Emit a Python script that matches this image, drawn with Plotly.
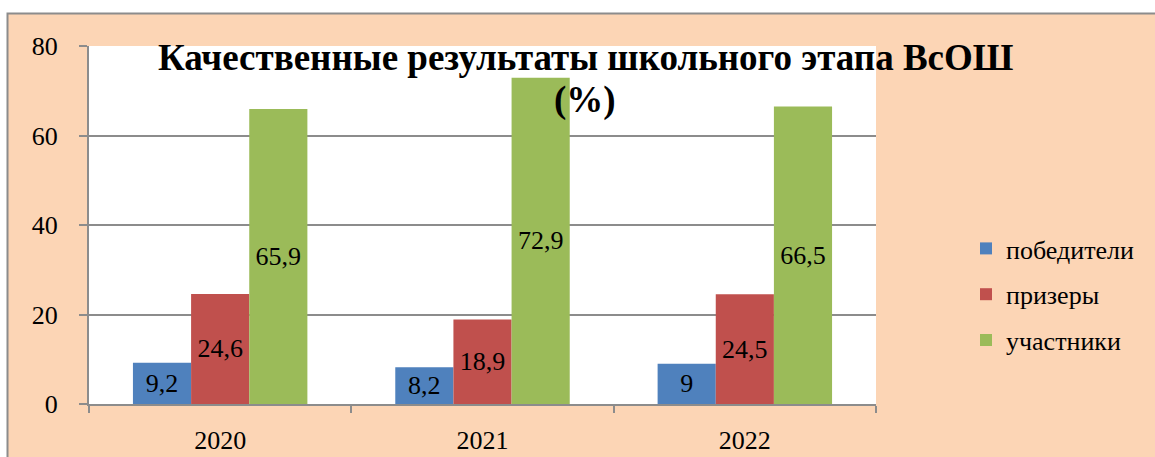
import plotly.graph_objects as go

years = ["2020", "2021", "2022"]
series_names = ["победители", "призеры", "участники"]
winners = [9.2, 8.2, 9]
prize = [24.6, 18.9, 24.5]
participants = [65.9, 72.9, 66.5]
colors = ["#4F81BD", "#C0504D", "#9BBB59"]
title_line1 = "Качественные результаты школьного этапа ВсОШ"
title_line2 = "(%)"

W, H = 1155, 457
L, R, T, B = 89, 876, 46, 404
pw, ph = R - L, B - T

def px_x(x):
    return (x - L) / pw

def px_y(y):
    return (B - y) / ph

FONT = "Liberation Serif"
FS = 26

fig = go.Figure()
for i, (name, vals) in enumerate(zip(series_names, [winners, prize, participants])):
    fig.add_trace(go.Bar(
        x=years, y=vals, name=name,
        marker=dict(color=colors[i], line=dict(width=0)),
        texttemplate="%{y}", textposition="inside",
        insidetextanchor="middle", textangle=0, constraintext="none",
        textfont=dict(family=FONT, size=FS, color="black"),
        legendgroup=name,
    ))

shapes = [
    dict(type="rect", xref="paper", yref="paper", layer="below",
         x0=px_x(7.5), x1=px_x(1170), y0=px_y(470), y1=px_y(13.5),
         fillcolor="#FCD5B5", line=dict(color="#8C8C8C", width=2)),
    dict(type="rect", xref="paper", yref="paper", layer="below",
         x0=0, x1=1, y0=0, y1=1, fillcolor="white", line=dict(width=0)),
]

fig.update_layout(
    width=W, height=H,
    margin=dict(l=L, r=W - R, t=T, b=H - B, pad=0, autoexpand=False),
    paper_bgcolor="white", plot_bgcolor="rgba(0,0,0,0)",
    separators=", ",
    barmode="group", bargap=0.335, bargroupgap=0,
    font=dict(family=FONT, size=FS, color="black"),
    shapes=shapes,
    showlegend=True,
    legend=dict(x=px_x(966), y=px_y(225), xanchor="left", yanchor="top",
                xref="paper", yref="paper",
                bgcolor="rgba(0,0,0,0)", font=dict(family=FONT, size=FS, color="black"),
                tracegroupgap=9, traceorder="grouped",
                itemwidth=30),
    annotations=[
        dict(text="<b>" + title_line1 + "</b>", xref="paper", yref="paper",
             x=px_x(585), y=px_y(57), xanchor="center", yanchor="middle",
             showarrow=False, font=dict(family=FONT, size=37, color="black")),
        dict(text="<b>" + title_line2 + "</b>", xref="paper", yref="paper",
             x=px_x(585), y=px_y(100), xanchor="center", yanchor="middle",
             showarrow=False, font=dict(family=FONT, size=37, color="black")),
    ],
    xaxis=dict(type="category", tickson="boundaries", ticks="outside", ticklen=7,
               tickcolor="#8C8C8C", tickwidth=2, showline=True, linecolor="#8C8C8C",
               linewidth=2, showgrid=False, ticklabelstandoff=12, automargin=False,
               tickfont=dict(family=FONT, size=FS, color="black")),
    yaxis=dict(range=[0, 80], dtick=20, ticks="outside", ticklen=8,
               tickcolor="#8C8C8C", tickwidth=2, showline=True, linecolor="#8C8C8C",
               linewidth=2, showgrid=True, gridcolor="#8C8C8C", gridwidth=2,
               zeroline=False, ticklabelstandoff=16, automargin=False,
               tickfont=dict(family=FONT, size=FS, color="black")),
)

fig.write_html("out.html")
